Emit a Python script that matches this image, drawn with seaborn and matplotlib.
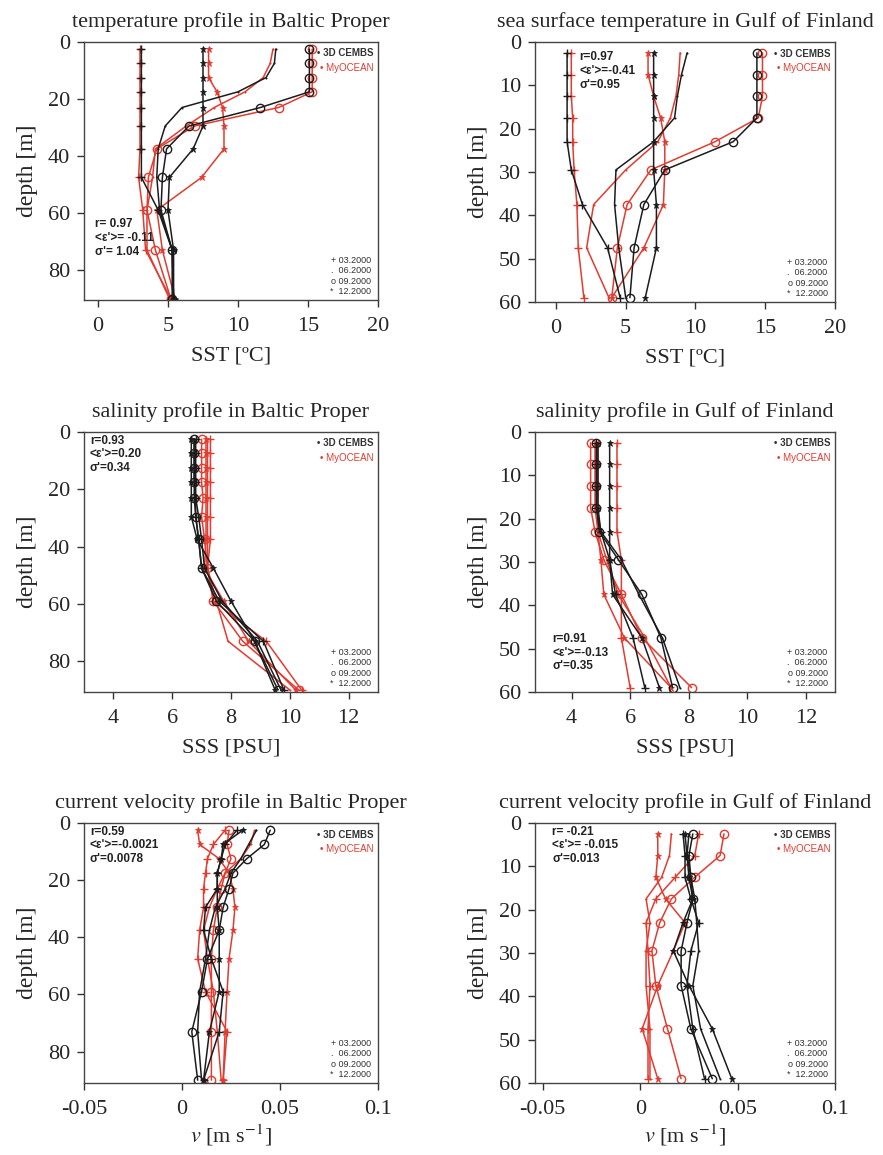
#Model vs. observation vertical profiles (3D CEMBS vs MyOCEAN), year 2000
#Six panels: temperature, salinity, current velocity for Baltic Proper / Gulf of Finland

import seaborn as sns
import matplotlib.pyplot as plt
import pandas as pd

#Step 1: data
bp_depth = [2.5, 7.5, 12.5, 17.5, 23, 29.5, 37.5, 47.5, 59, 73, 90]
gof_depth = [2.5, 7.5, 12.5, 17.5, 23, 29.5, 37.5, 47.5, 59]
months = ["03.2000", "06.2000", "09.2000", "12.2000"]

#each list of four = months 03, 06, 09, 12
bp_sst_cembs = [
    [3.1, 3.1, 3.1, 3.1, 3.1, 3.1, 3.1, 3.1, 4.3, 5.3, 5.4],
    [12.7, 12.6, 12.0, 10.0, 6.0, 4.8, 4.3, 4.2, 4.4, 5.3, 5.4],
    [15.1, 15.1, 15.1, 15.1, 11.6, 6.5, 4.9, 4.6, 4.5, 5.3, 5.3],
    [7.5, 7.5, 7.5, 7.5, 7.5, 7.5, 6.8, 5.1, 5.0, 5.4, 5.4],
]
bp_sst_myocean = [
    [3.0, 3.0, 3.0, 3.0, 3.0, 3.0, 3.0, 2.9, 3.2, 3.4, 5.2],
    [12.5, 12.3, 11.8, 10.5, 8.3, 6.3, 4.1, 3.9, 3.5, 3.5, 5.1],
    [15.3, 15.3, 15.3, 15.3, 12.9, 6.9, 4.2, 3.6, 3.5, 4.1, 5.2],
    [7.9, 7.9, 7.9, 8.5, 8.9, 9.0, 9.0, 7.4, 4.2, 4.6, 5.5],
]
gof_sst_cembs = [
    [0.8, 0.8, 0.8, 0.8, 0.8, 1.1, 1.9, 3.7, 4.6],
    [9.4, 9.0, 8.7, 8.5, 7.0, 4.3, 4.2, 4.5, 5.0],
    [14.4, 14.4, 14.4, 14.4, 12.7, 7.8, 6.3, 5.6, 5.3],
    [7.0, 7.0, 7.0, 7.0, 7.0, 7.0, 7.2, 7.2, 6.4],
]
gof_sst_myocean = [
    [1.1, 1.1, 1.1, 1.2, 1.2, 1.3, 1.5, 1.6, 2.0],
    [8.9, 8.8, 8.6, 8.2, 7.3, 5.0, 2.7, 2.2, 3.8],
    [14.8, 14.8, 14.8, 14.5, 11.4, 6.8, 5.1, 4.4, 4.0],
    [6.6, 6.6, 7.0, 7.5, 7.8, 7.8, 7.7, 6.3, 4.0],
]
bp_sss_cembs = [
    [6.8, 6.8, 6.8, 6.8, 6.8, 6.8, 6.9, 7.0, 7.6, 9.1, 9.8],
    [6.75, 6.75, 6.75, 6.75, 6.8, 6.9, 7.0, 7.1, 7.7, 8.9, 9.7],
    [6.75, 6.75, 6.75, 6.75, 6.75, 6.8, 6.9, 7.0, 7.5, 8.8, 9.6],
    [6.65, 6.65, 6.65, 6.65, 6.65, 6.65, 6.85, 7.4, 8.0, 8.8, 9.5],
]
bp_sss_myocean = [
    [7.3, 7.3, 7.3, 7.3, 7.3, 7.3, 7.3, 7.2, 7.4, 9.2, 10.4],
    [7.2, 7.2, 7.2, 7.2, 7.2, 7.2, 7.2, 7.2, 7.5, 7.9, 10.0],
    [7.0, 7.0, 7.0, 7.0, 7.05, 7.0, 7.1, 7.2, 7.4, 8.4, 10.3],
    [7.15, 7.15, 7.15, 7.15, 7.15, 7.15, 7.15, 7.1, 7.75, 8.6, 10.2],
]
gof_sss_cembs = [
    [4.85, 4.85, 4.85, 4.85, 5.0, 5.3, 5.5, 6.1, 6.5],
    [4.9, 4.9, 4.9, 4.9, 5.0, 5.7, 6.3, 7.1, 7.7],
    [4.85, 4.85, 4.85, 4.85, 4.95, 5.6, 6.4, 7.05, 7.45],
    [5.3, 5.3, 5.3, 5.3, 5.3, 5.3, 5.4, 6.4, 7.0],
]
gof_sss_myocean = [
    [5.55, 5.55, 5.55, 5.55, 5.55, 5.7, 5.7, 5.7, 6.0],
    [4.8, 4.8, 4.8, 4.8, 4.9, 5.2, 5.6, 6.5, 7.4],
    [4.65, 4.65, 4.65, 4.65, 4.8, 5.1, 5.7, 6.4, 8.1],
    [4.9, 4.9, 4.9, 4.9, 4.9, 5.0, 5.1, 5.8, 7.4],
]
bp_vel_cembs = [
    [0.028, 0.022, 0.020, 0.018, 0.018, 0.012, 0.011, 0.015, 0.021, 0.019, 0.011],
    [0.038, 0.034, 0.030, 0.025, 0.022, 0.017, 0.014, 0.012, 0.009, 0.008, 0.010],
    [0.045, 0.042, 0.033, 0.026, 0.024, 0.021, 0.019, 0.013, 0.010, 0.005, 0.008],
    [0.031, 0.021, 0.020, 0.018, 0.018, 0.018, 0.019, 0.019, 0.019, 0.014, 0.011],
]
bp_vel_myocean = [
    [0.022, 0.016, 0.013, 0.012, 0.011, 0.011, 0.009, 0.008, 0.012, 0.023, 0.021],
    [0.037, 0.035, 0.030, 0.022, 0.018, 0.014, 0.011, 0.013, 0.016, 0.018, 0.020],
    [0.024, 0.023, 0.025, 0.022, 0.020, 0.018, 0.016, 0.015, 0.015, 0.015, 0.015],
    [0.008, 0.009, 0.019, 0.024, 0.026, 0.027, 0.026, 0.024, 0.023, 0.022, 0.021],
]
gof_vel_cembs = [
    [0.022, 0.023, 0.023, 0.026, 0.030, 0.026, 0.024, 0.027, 0.033],
    [0.025, 0.024, 0.026, 0.028, 0.029, 0.030, 0.027, 0.031, 0.041],
    [0.027, 0.025, 0.026, 0.027, 0.024, 0.021, 0.021, 0.026, 0.037],
    [0.023, 0.024, 0.025, 0.027, 0.022, 0.017, 0.025, 0.037, 0.047],
]
gof_vel_myocean = [
    [0.030, 0.028, 0.018, 0.008, 0.003, 0.004, 0.005, 0.004, 0.004],
    [0.016, 0.015, 0.011, 0.003, 0.005, 0.003, 0.003, 0.005, 0.005],
    [0.043, 0.041, 0.028, 0.016, 0.010, 0.006, 0.008, 0.014, 0.021],
    [0.009, 0.009, 0.008, 0.013, 0.023, 0.017, 0.009, 0.001, 0.009],
]

#stats text shown in each panel
stats = [
    ["r= 0.97", "<ε'>= -0.11", "σ'= 1.04"],
    ["r=0.97", "<ε'>=-0.41", "σ'=0.95"],
    ["r=0.93", "<ε'>=0.20", "σ'=0.34"],
    ["r=0.91", "<ε'>=-0.13", "σ'=0.35"],
    ["r=0.59", "<ε'>=-0.0021", "σ'=0.0078"],
    ["r= -0.21", "<ε'>= -0.015", "σ'=0.013"],
]
titles = [
    "temperature profile in Baltic Proper",
    "sea surface temperature in Gulf of Finland",
    "salinity profile in Baltic Proper",
    "salinity profile in Gulf of Finland",
    "current velocity profile in Baltic Proper",
    "current velocity profile in Gulf of Finland",
]

#Step 2: style
sns.set_style("ticks")
plt.rcParams["font.family"] = ["Liberation Serif", "DejaVu Serif"]
plt.rcParams["mathtext.fontset"] = "stix"

BLACK = "#1c1c1c"
RED = "#e23b30"
SANS = ["Liberation Sans", "DejaVu Sans"]
marker_style = [
    dict(marker="+", markersize=6, markeredgewidth=1.0),
    dict(marker=".", markersize=1.5),
    dict(marker="o", markersize=6, markerfacecolor="none", markeredgewidth=1.0),
    dict(marker="*", markersize=5, markeredgewidth=0.6),
]

fig = plt.figure(figsize=(8.83, 11.55), dpi=100)

rects = [
    [0.0951, 0.7403, 0.3330, 0.2234],
    [0.6059, 0.7385, 0.3398, 0.2251],
    [0.0951, 0.4009, 0.3330, 0.2251],
    [0.6059, 0.4009, 0.3398, 0.2251],
    [0.0951, 0.0623, 0.3330, 0.2251],
    [0.6059, 0.0623, 0.3398, 0.2251],
]

panels = [
    (bp_depth, bp_sst_cembs, bp_sst_myocean, (-1, 20), (90.5, 0), [0, 5, 10, 15, 20], [0, 20, 40, 60, 80], "SST [ºC]", (0.037, 0.163, "bottom")),
    (gof_depth, gof_sst_cembs, gof_sst_myocean, (-1.5, 20), (60, 0), [0, 5, 10, 15, 20], [0, 10, 20, 30, 40, 50, 60], "SST [ºC]", (0.147, 0.965, "top")),
    (bp_depth, bp_sss_cembs, bp_sss_myocean, (3, 13), (90.7, 0), [4, 6, 8, 10, 12], [0, 20, 40, 60, 80], "SSS [PSU]", (0.02, 0.99, "top")),
    (gof_depth, gof_sss_cembs, gof_sss_myocean, (2.75, 13), (60, 0), [4, 6, 8, 10, 12], [0, 10, 20, 30, 40, 50, 60], "SSS [PSU]", (0.057, 0.075, "bottom")),
    (bp_depth, bp_vel_cembs, bp_vel_myocean, (-0.05, 0.1), (91, 0), [-0.05, 0, 0.05, 0.1], [0, 20, 40, 60, 80], r"$v$ [m s$^{-1}$]", (0.02, 0.99, "top")),
    (gof_depth, gof_vel_cembs, gof_vel_myocean, (-0.054, 0.1), (60, 0), [-0.05, 0, 0.05, 0.1], [0, 10, 20, 30, 40, 50, 60], r"$v$ [m s$^{-1}$]", (0.057, 0.99, "top")),
]

for i, (depth, cembs, myocean, xlim, ylim, xt, yt, xlabel, (sx, sy, sv)) in enumerate(panels):
    ax = fig.add_axes(rects[i])
    rows = []
    for src, series in (("3D CEMBS", cembs), ("MyOCEAN", myocean)):
        for m, vals in zip(months, series):
            for d, v in zip(depth, vals):
                rows.append({"depth": d, "value": v, "source": src, "month": m})
    df = pd.DataFrame(rows)

    #MyOCEAN first, model lines on top
    for src, color in (("MyOCEAN", RED), ("3D CEMBS", BLACK)):
        for k, m in enumerate(months):
            sub = df[(df["source"] == src) & (df["month"] == m)]
            sns.lineplot(data=sub, x="value", y="depth", orient="y", sort=False,
                         estimator=None, color=color, linewidth=1.1, ax=ax,
                         markeredgecolor=color, **marker_style[k])

    is_vel = xlabel.startswith("$v$")
    ax.set_xlim(*xlim)
    ax.set_ylim(*ylim)
    ax.set_xticks(xt)
    ax.set_yticks(yt)
    if is_vel:
        ax.set_xticklabels(["-0.05", "0", "0.05", "0.1"])
    ax.tick_params(labelsize=16, length=5, width=1, color="#333333")
    ax.tick_params(axis="x", pad=7)
    ax.tick_params(axis="y", pad=5)
    for s in ax.spines.values():
        s.set_visible(True)
        s.set_color("#444444")
        s.set_linewidth(1.0)
    ax.set_xlabel(xlabel, fontsize=16, labelpad=3 if is_vel else 8)
    ax.set_ylabel("depth [m]", fontsize=17, labelpad=7)
    ax.set_title(titles[i], fontsize=16, pad=11)

    #stats box
    ax.text(sx, sy, "\n".join(stats[i]), transform=ax.transAxes, ha="left", va=sv,
            fontsize=8.5, fontweight="bold", family=SANS, color="#222222", linespacing=1.2)
    #model legend
    ax.text(0.985, 0.975, "• 3D CEMBS", transform=ax.transAxes, ha="right", va="top",
            fontsize=7, fontweight="bold", family=SANS, color="#333333")
    ax.text(0.985, 0.92, "• MyOCEAN", transform=ax.transAxes, ha="right", va="top",
            fontsize=7, family=SANS, color=RED)
    #month legend
    ax.text(0.975, 0.015, "+ 03.2000\n.  06.2000\no 09.2000\n*  12.2000", transform=ax.transAxes,
            ha="right", va="bottom", fontsize=6.5, family=SANS, color="#333333", linespacing=1.2)

plt.savefig("out.png", dpi=100)
